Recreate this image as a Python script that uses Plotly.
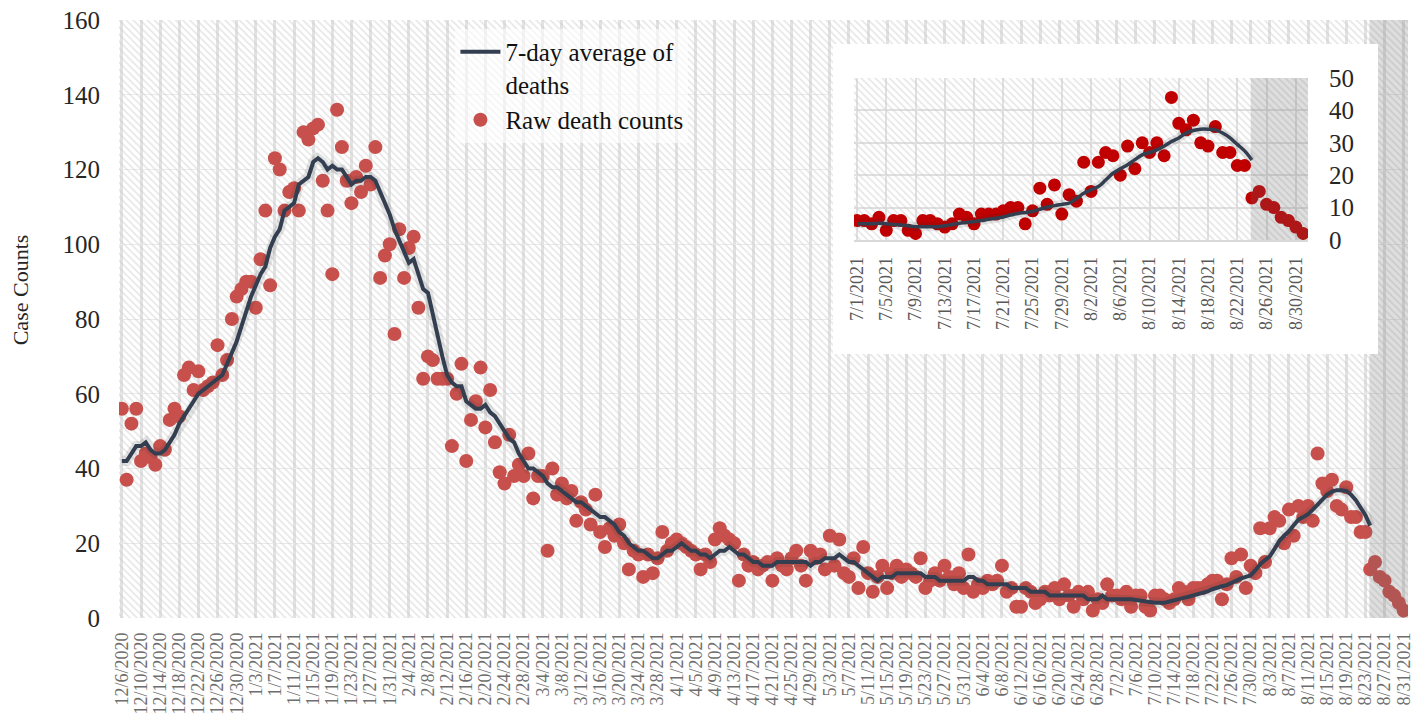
import pandas as pd
import plotly.graph_objects as go

# ---------------- data ----------------
START = "2020-12-06"
END = "2021-08-31"
dates = pd.date_range(START, END, freq="D")

raw_deaths = [
    56, 37, 52, 56, 42, 44, 43, 41, 46, 45,
    53, 56, 54, 65, 67, 61, 66, 61, 62, 63,
    73, 65, 69, 80, 86, 88, 90, 90, 83, 96,
    109, 89, 123, 120, 109, 114, 115, 109, 130, 128,
    131, 132, 117, 109, 92, 136, 126, 117, 111, 118,
    114, 121, 116, 126, 91, 97, 100, 76, 104, 91,
    99, 102, 83, 64, 70, 69, 64, 64, 64, 46,
    60, 68, 42, 53, 58, 67, 51, 61, 47, 39,
    36, 49, 38, 41, 38, 44, 32, 38, 38, 18,
    40, 33, 36, 32, 34, 26, 31, 29, 25, 33,
    23, 19, 24, 22, 25, 20, 13, 18, 17, 11,
    17, 12, 16, 23, 18, 20, 21, 20, 19, 18,
    17, 13, 17, 15, 21, 24, 22, 21, 20, 10,
    17, 14, 15, 13, 14, 15, 10, 16, 14, 13,
    16, 18, 14, 10, 18, 16, 17, 13, 22, 14,
    21, 12, 11, 16, 8, 19, 12, 7, 11, 14,
    8, 12, 14, 11, 13, 12, 11, 16, 8, 10,
    12, 10, 14, 11, 9, 12, 8, 17, 7, 9,
    8, 10, 9, 10, 14, 7, 8, 3, 3, 8,
    7, 4, 5, 7, 6, 8, 5, 9, 6, 3,
    7, 5, 7, 2, 5, 4, 9,
    6, 6, 5, 7, 3, 6, 6, 3, 2, 6,
    6, 5, 4, 5, 8, 7, 5, 8, 8, 8,
    9, 10, 10, 5, 9, 16, 11, 17, 8, 14, 12,
    24, 15, 24, 27, 26, 20, 29, 22, 30, 27,
    30, 26, 44, 36, 34, 37, 30, 29, 35, 27,
    27, 23, 23, 13, 15, 11, 10, 7, 6, 4, 2,
]

avg_deaths = [
    42, 42, 44, 46, 46, 47, 45, 44, 44, 45,
    47, 49, 52, 54, 56, 58, 60, 61, 62, 63,
    64, 65, 68, 71, 74, 78, 82, 86, 89, 92,
    94, 99, 102, 104, 109, 110, 111, 116, 117, 118,
    122, 123, 122, 120, 121, 120, 120, 118, 116, 117,
    117, 118, 118, 117, 114, 111, 108, 104, 101, 98,
    95, 96, 92, 88, 87, 81, 76, 70, 65, 63,
    62, 62, 58, 57, 56, 56, 57, 55, 54, 52,
    50, 48, 47, 44, 42, 40, 40, 39, 38, 36,
    35, 35, 34, 33, 32, 31, 31, 30, 29, 28,
    27, 27, 26, 25, 23, 22, 20, 19, 18, 18,
    17, 16, 16, 17, 18, 18, 19, 20, 19, 18,
    18, 17, 17, 16, 17, 18, 18, 19, 18, 17,
    17, 16, 15, 15, 14, 14, 14, 15, 15, 15,
    15, 15, 15, 15, 14, 15, 15, 16, 16, 16,
    17, 16, 15, 15, 14, 13, 12, 11, 10, 11,
    11, 11, 12, 12, 12, 12, 12, 12, 11, 11,
    11, 10, 10, 10, 10, 10, 10, 11, 11, 10,
    10, 9, 9, 9, 9, 9, 8, 8, 8, 8,
    7, 7, 7, 7, 6, 6, 6, 6, 6, 6,
    6, 6, 5, 5, 5, 6, 5,
    5, 5, 5, 5.2, 5, 4.8, 4.6, 4.4, 4.1, 4.1,
    4.1, 4.1, 4.4, 4.8, 5.2, 5.4, 5.7, 6, 6.4, 6.7,
    7.1, 7.7, 8.2, 8.5, 8.8, 9.5, 10.1, 10.6, 11, 11.4, 12.8,
    14.4, 15.5, 16.5, 18.5, 20.6, 22, 23.2, 24.8, 26.3, 27,
    27.8, 29, 30.4, 31.5, 33, 33.8, 34.2, 34.2, 34, 33,
    31.5, 29.5, 27.5, 24.7,
]
avg_dates = dates[: len(avg_deaths)]

INSET_START = "2021-07-01"
SHADE_START = "2021-08-23 20:00"

main_y_ticks = [0, 20, 40, 60, 80, 100, 120, 140, 160]
inset_y_ticks = [0, 10, 20, 30, 40, 50]

main_tick_dates = dates[::4]
main_tick_text = [f"{d.month}/{d.day}/{d.year}" for d in main_tick_dates]
inset_mask = dates >= pd.Timestamp(INSET_START)
inset_dates = dates[inset_mask]
inset_raw = [v for v, m in zip(raw_deaths, inset_mask) if m]
inset_avg_mask = avg_dates >= pd.Timestamp(INSET_START)
inset_avg_dates = avg_dates[inset_avg_mask]
inset_avg = [v for v, m in zip(avg_deaths, inset_avg_mask) if m]
inset_tick_dates = inset_dates[::4]
inset_tick_text = [f"{d.month}/{d.day}/{d.year}" for d in inset_tick_dates]

# ---------------- style ----------------
FONT = "Liberation Serif, 'Times New Roman', serif"
LINE_C = "#333F50"
DOT_C = "#C8504C"
INSET_DOT_C = "#C00000"
HATCH = dict(shape="\\", fgcolor="#CBCBCB", bgcolor="rgba(0,0,0,0)", size=5, solidity=0.3)
SHADE_C = "rgba(105,105,105,0.22)"

MAIN_RANGE = ["2020-12-05 09:36", "2021-08-31 21:36"]
INSET_RANGE = ["2021-06-30 14:00", "2021-08-31 16:00"]

fig = go.Figure()

# main hatched background
fig.add_trace(go.Scatter(
    x=[MAIN_RANGE[0], MAIN_RANGE[1], MAIN_RANGE[1], MAIN_RANGE[0], MAIN_RANGE[0]],
    y=[main_y_ticks[0], main_y_ticks[0], main_y_ticks[-1], main_y_ticks[-1], main_y_ticks[0]],
    fill="toself", mode="none", fillpattern=HATCH, fillcolor="rgba(0,0,0,0)",
    showlegend=False, hoverinfo="skip", xaxis="x", yaxis="y"))

fig.add_trace(go.Scatter(
    x=dates, y=raw_deaths, mode="markers", name="Raw death counts",
    marker=dict(color=DOT_C, size=14, line=dict(width=0)), legendrank=2,
    xaxis="x", yaxis="y"))

fig.add_trace(go.Scatter(
    x=avg_dates, y=avg_deaths, mode="lines", showlegend=False, hoverinfo="skip",
    line=dict(color="rgba(40,40,40,0.12)", width=10), xaxis="x", yaxis="y"))

fig.add_trace(go.Scatter(
    x=avg_dates, y=avg_deaths, mode="lines", name="7-day average of<br>deaths",
    line=dict(color=LINE_C, width=4), legendrank=1, xaxis="x", yaxis="y"))

# main shaded (incomplete data) period
fig.add_trace(go.Scatter(
    x=[SHADE_START, MAIN_RANGE[1], MAIN_RANGE[1], SHADE_START, SHADE_START],
    y=[main_y_ticks[0], main_y_ticks[0], main_y_ticks[-1], main_y_ticks[-1], main_y_ticks[0]],
    fill="toself", mode="none", fillcolor=SHADE_C,
    showlegend=False, hoverinfo="skip", xaxis="x", yaxis="y"))

# white inset box (own overlapping subplot -> own white background)
fig.add_trace(go.Scatter(x=[0], y=[0], mode="markers", marker=dict(opacity=0),
                         showlegend=False, hoverinfo="skip", xaxis="x2", yaxis="y2"))

# inset chart
fig.add_trace(go.Scatter(
    x=[INSET_RANGE[0], INSET_RANGE[1], INSET_RANGE[1], INSET_RANGE[0], INSET_RANGE[0]],
    y=[inset_y_ticks[0], inset_y_ticks[0], inset_y_ticks[-1], inset_y_ticks[-1], inset_y_ticks[0]],
    fill="toself", mode="none", fillpattern=dict(HATCH, size=5), fillcolor="rgba(0,0,0,0)",
    showlegend=False, hoverinfo="skip", xaxis="x3", yaxis="y3"))
fig.add_trace(go.Scatter(
    x=inset_dates, y=inset_raw, mode="markers", showlegend=False,
    marker=dict(color=INSET_DOT_C, size=13, line=dict(width=0)), xaxis="x3", yaxis="y3"))
fig.add_trace(go.Scatter(
    x=inset_avg_dates, y=inset_avg, mode="lines", showlegend=False, hoverinfo="skip",
    line=dict(color="rgba(40,40,40,0.12)", width=9, shape="spline"), xaxis="x3", yaxis="y3"))
fig.add_trace(go.Scatter(
    x=inset_avg_dates, y=inset_avg, mode="lines", showlegend=False,
    line=dict(color=LINE_C, width=3.5, shape="spline"), xaxis="x3", yaxis="y3"))
fig.add_trace(go.Scatter(
    x=[SHADE_START, INSET_RANGE[1], INSET_RANGE[1], SHADE_START, SHADE_START],
    y=[inset_y_ticks[0], inset_y_ticks[0], inset_y_ticks[-1], inset_y_ticks[-1], inset_y_ticks[0]],
    fill="toself", mode="none", fillcolor=SHADE_C,
    showlegend=False, hoverinfo="skip", xaxis="x3", yaxis="y3"))

# page body has an 8px default margin, so the figure is offset by 8px
fig.update_layout(
    width=1424, height=717,
    margin=dict(l=111, r=24, t=12, b=107, autoexpand=False),
    paper_bgcolor="white", plot_bgcolor="white",
    font=dict(family=FONT, color="#262626"),
    showlegend=True,
    legend=dict(
        x=0.261, y=0.985, xanchor="left", yanchor="top",
        bgcolor="rgba(255,255,255,0.6)", borderwidth=0,
        font=dict(family=FONT, size=25, color="#111111"),
        valign="top", tracegroupgap=0, itemwidth=40,
    ),
    xaxis=dict(
        type="date", range=MAIN_RANGE, domain=[0, 1], automargin=False,
        tickvals=main_tick_dates, ticktext=main_tick_text, tickangle=-90,
        tickfont=dict(family=FONT, size=18, color="#6E6E6E"),
        showgrid=True, gridcolor="#E2E2E2", gridwidth=2.5, ticklabeloverflow="allow",
        zeroline=False, showline=False, ticks="", ticklabelstandoff=10,
    ),
    yaxis=dict(
        range=[main_y_ticks[0], main_y_ticks[-1]], tickvals=main_y_ticks, domain=[0, 1],
        automargin=False, ticklabeloverflow="allow",
        tickfont=dict(family=FONT, size=25, color="#262626"),
        showgrid=True, gridcolor="#EAEAEA", gridwidth=1,
        zeroline=False, showline=False, ticks="", ticklabelstandoff=18,
    ),
    xaxis2=dict(domain=[0.5539, 0.9767], anchor="y2", visible=False, range=[0, 1], automargin=False),
    yaxis2=dict(domain=[0.4415, 0.9599], anchor="x2", visible=False, range=[0, 1], automargin=False),
    xaxis3=dict(
        type="date", range=INSET_RANGE, domain=[0.5702, 0.9224], anchor="y3", automargin=False,
        tickvals=inset_tick_dates, ticktext=inset_tick_text, tickangle=-90,
        tickfont=dict(family=FONT, size=18, color="#595959"), ticklabeloverflow="allow",
        showgrid=True, gridcolor="#E0E0E0", gridwidth=2,
        zeroline=False, showline=True, linecolor="#D9D9D9", linewidth=1.5,
        ticks="", ticklabelstandoff=8,
    ),
    yaxis3=dict(
        range=[inset_y_ticks[0], inset_y_ticks[-1]], tickvals=inset_y_ticks, automargin=False,
        domain=[0.6321, 0.9030], anchor="x3", side="right", ticklabeloverflow="allow",
        tickfont=dict(family=FONT, size=25, color="#262626"),
        showgrid=True, gridcolor="#E0E0E0", gridwidth=1.5,
        zeroline=False, showline=False, ticks="", ticklabelstandoff=20,
    ),
    annotations=[dict(
        text="Case Counts", textangle=-90, showarrow=False,
        xref="paper", yref="paper", x=-0.0768, y=0.548,
        xanchor="center", yanchor="middle",
        font=dict(family=FONT, size=22, color="#262626"),
    )],
)

fig.write_html("out.html")
